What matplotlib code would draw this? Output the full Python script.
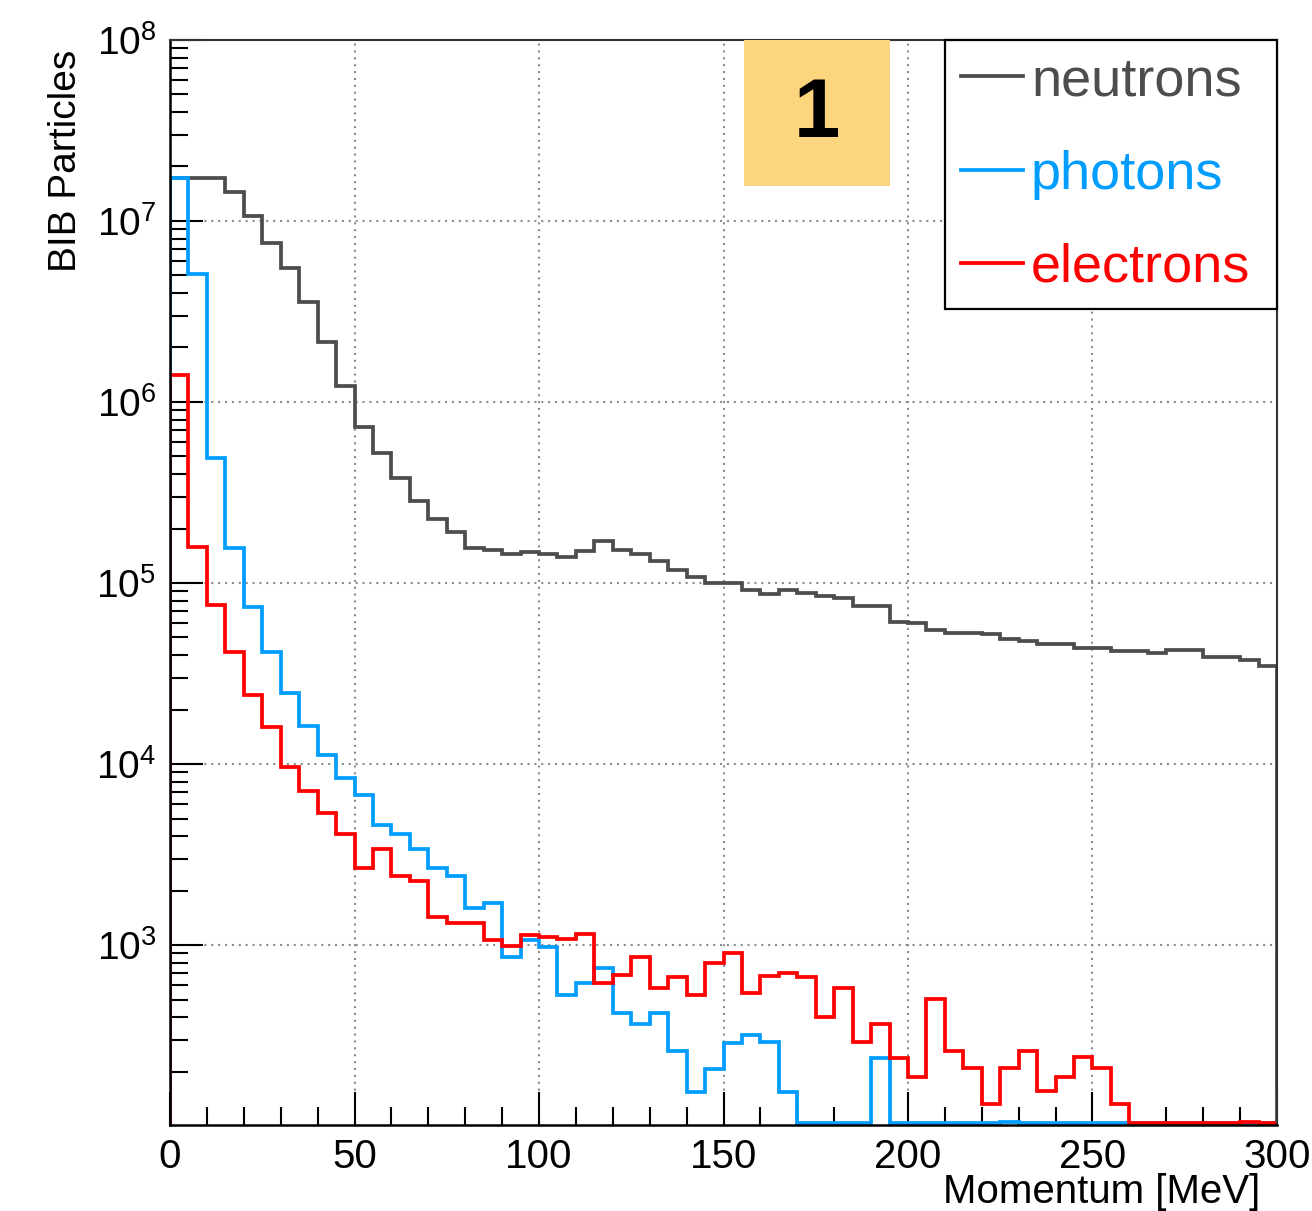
import numpy as np
import matplotlib
matplotlib.use("Agg")
import matplotlib.pyplot as plt
from matplotlib.patches import Rectangle
from matplotlib.ticker import LogLocator, MultipleLocator, LogFormatterSciNotation, NullFormatter

plt.rcParams.update({
    "font.family": ["Liberation Sans", "DejaVu Sans"],
    "mathtext.default": "regular",
    "font.size": 28,
})

# 5 MeV bins from 0 to 300 MeV
bin_edges = np.linspace(0, 300, 61)

neutrons = [
    1.73e7, 1.73e7, 1.73e7, 1.45e7, 1.06e7, 7.6e6, 5.5e6, 3.58e6, 2.15e6, 1.22e6,
    7.3e5, 5.2e5, 3.82e5, 2.85e5, 2.26e5, 1.92e5, 1.57e5, 1.52e5, 1.45e5, 1.48e5,
    1.45e5, 1.40e5, 1.50e5, 1.71e5, 1.52e5, 1.45e5, 1.32e5, 1.18e5, 1.08e5, 9.96e4,
    9.96e4, 9.1e4, 8.7e4, 9.2e4, 8.8e4, 8.5e4, 8.3e4, 7.5e4, 7.5e4, 6.1e4,
    6.0e4, 5.5e4, 5.3e4, 5.3e4, 5.2e4, 4.9e4, 4.8e4, 4.6e4, 4.6e4, 4.35e4,
    4.35e4, 4.2e4, 4.2e4, 4.1e4, 4.25e4, 4.25e4, 3.9e4, 3.9e4, 3.76e4, 3.5e4,
]

photons = [
    1.73e7, 5.1e6, 4.9e5, 1.57e5, 7.35e4, 4.14e4, 2.48e4, 1.62e4, 1.12e4, 8.4e3,
    6.7e3, 4.6e3, 4.1e3, 3.39e3, 2.68e3, 2.4e3, 1.6e3, 1.7e3, 855, 1060,
    973, 530, 614, 743, 420, 366, 420, 261, 155, 206,
    288, 318, 292, 155, 104, 0, 0, 0, 237, 0,
    0, 0, 0, 0, 0, 105, 0, 0, 0, 0,
    0, 0, 0, 0, 0, 0, 0, 0, 0, 0,
]

electrons = [
    1.41e6, 1.59e5, 7.55e4, 4.14e4, 2.4e4, 1.6e4, 9.66e3, 7.1e3, 5.35e3, 4.1e3,
    2.65e3, 3.38e3, 2.4e3, 2.27e3, 1.43e3, 1.32e3, 1.32e3, 1.06e3, 990, 1140,
    1110, 1075, 1150, 614, 682, 862, 577, 668, 530, 798,
    906, 545, 674, 703, 663, 400, 577, 292, 366, 237,
    186, 501, 261, 208, 132, 208, 261, 157, 186, 240,
    208, 132, 0, 0, 0, 0, 0, 0, 105, 0,
]

series = [
    ("neutrons", neutrons, "#4d4d4d"),
    ("photons", photons, "#009dff"),
    ("electrons", electrons, "#ff0000"),
]

y_min, y_max = 101.3, 1e8

fig = plt.figure(figsize=(13.12, 12.11), dpi=100)
ax = fig.add_axes([0.1296, 0.0710, 0.8437, 0.8960])

for name, values, color in series:
    # empty bins sit on the bottom of the frame, as ROOT draws them
    drawn = np.maximum(np.asarray(values, dtype=float), y_min * 1.02)
    ax.stairs(drawn, bin_edges, color=color, linewidth=2.7, label=name)

ax.set_yscale("log")
ax.set_xlim(0, 300)
ax.set_ylim(y_min, y_max)

ax.xaxis.set_major_locator(MultipleLocator(50))
ax.xaxis.set_minor_locator(MultipleLocator(10))
ax.yaxis.set_major_locator(LogLocator(base=10, numticks=12))
ax.yaxis.set_minor_locator(LogLocator(base=10, subs=np.arange(2, 10), numticks=12))
ax.yaxis.set_major_formatter(LogFormatterSciNotation())
ax.yaxis.set_minor_formatter(NullFormatter())

ax.tick_params(which="both", direction="in", width=1.5, color="black")
ax.tick_params(which="major", length=24)
ax.tick_params(which="minor", length=13)
ax.tick_params(axis="y", pad=10, labelsize=28)
ax.tick_params(axis="x", pad=9, labelsize=29)

ax.grid(True, which="major", color="#8c8c8c", linestyle=(0, (1, 2.3)), linewidth=1.5)
ax.set_axisbelow(True)

for side in ("left", "bottom"):
    ax.spines[side].set_linewidth(1.8)
for side in ("top", "right"):
    ax.spines[side].set_linewidth(1.5)
    ax.spines[side].set_color("#333333")
    ax.spines[side].set_linestyle((0, (3, 1)))

ax.set_xlabel("Momentum [MeV]", fontsize=29, ha="right", va="top")
ax.xaxis.set_label_coords(0.985, -0.044)
ax.set_ylabel("BIB Particles", fontsize=28, loc="top")
ax.yaxis.set_label_coords(-0.078, 0.991)

ax.add_patch(Rectangle((0.5185, 0.8654), 0.1319, 0.1346, transform=ax.transAxes,
                       facecolor="#fdd57e", edgecolor="none", zorder=4))
ax.text(0.5845, 0.9309, "1", transform=ax.transAxes, ha="center", va="center",
        fontsize=60, fontweight="bold", color="black", zorder=5)

leg = ax.legend(loc="upper left", bbox_to_anchor=(0.700, 0.0, 0.300, 1.0), mode="expand",
                borderaxespad=0, fontsize=39, handlelength=1.14, handletextpad=0.15,
                borderpad=0.3, labelspacing=0.8, fancybox=False, framealpha=1,
                edgecolor="black", labelcolor="linecolor")
leg.get_frame().set_linewidth(1.6)
for line in leg.get_lines():
    line.set_linewidth(2.7)

fig.savefig("out.png", dpi=100)
